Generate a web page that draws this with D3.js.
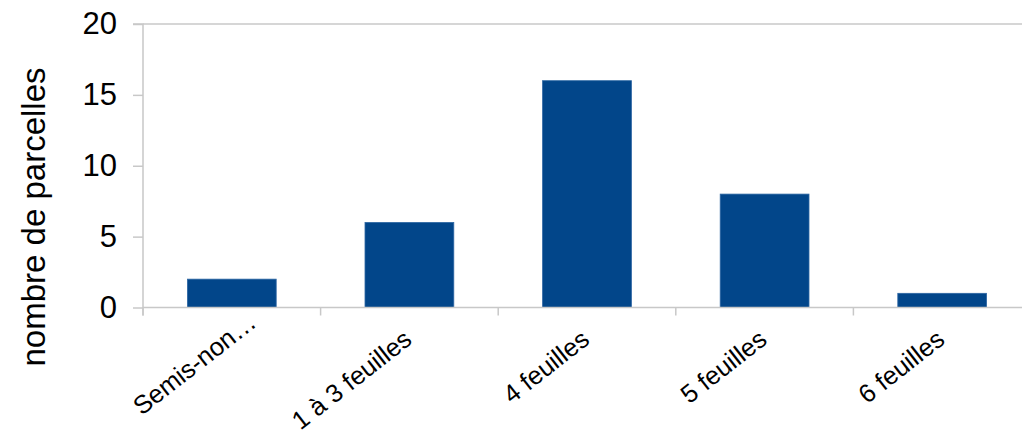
<!DOCTYPE html>
<html><head><meta charset="utf-8">
<script src="https://cdn.jsdelivr.net/npm/d3@7"></script>
<style>html,body{margin:0;padding:0;background:#fff;overflow:hidden}</style>
</head><body>
<svg id="c" width="1022" height="434"></svg>
<script>
const categories = ["Semis-non…", "1 à 3 feuilles", "4 feuilles", "5 feuilles", "6 feuilles"];
const values = [2, 6, 16, 8, 1];
const yTicks = [0, 5, 10, 15, 20];
const yTitle = "nombre de parcelles";

const svg = d3.select("#c");
const font = "'Liberation Sans', Arial, sans-serif";
const mLeft = 143, mRight = 1031, mTop = 24, mBottom = 307.5;

const x = d3.scaleBand().domain(categories).range([mLeft, mRight]).paddingInner(0.5).paddingOuter(0.25);
const xTickPos = d3.scaleBand().domain(categories).range([mLeft, mRight]);
const y = d3.scaleLinear().domain([0, 20]).range([mBottom, mTop]);

// top border line at 20
svg.append("line").attr("x1", mLeft).attr("x2", mRight).attr("y1", y(20)).attr("y2", y(20))
  .attr("stroke", "#c8c8c8").attr("stroke-width", 1.5);

// bars
svg.selectAll("rect.bar").data(values).join("rect").attr("class", "bar")
  .attr("x", (d, i) => x(categories[i]))
  .attr("width", x.bandwidth())
  .attr("y", d => y(d))
  .attr("height", d => y(0) - y(d))
  .attr("fill", "#02468A")
  .attr("stroke", "#2d66a3").attr("stroke-width", 0.8);

// y axis
const yAxis = d3.axisLeft(y).tickValues(yTicks).tickSize(10).tickPadding(16);
const gy = svg.append("g").attr("transform", `translate(${mLeft},0)`).call(yAxis);
gy.select(".domain").attr("stroke", "#c8c8c8").attr("stroke-width", 1.5).attr("d", `M-10,${mTop}H0V${mBottom + 8}`);
gy.selectAll(".tick line").attr("stroke", "#c8c8c8").attr("stroke-width", 1.5);
gy.selectAll(".tick text").attr("font-family", font).attr("font-size", 31).attr("fill", "#000");

// x axis
const gx = svg.append("g").attr("transform", `translate(0,${mBottom})`);
gx.append("line").attr("x1", mLeft).attr("x2", mRight).attr("y1", 0).attr("y2", 0)
  .attr("stroke", "#c8c8c8").attr("stroke-width", 1.5);
const tickXs = categories.map(c => xTickPos(c)).concat([mRight]);
gx.selectAll("line.tk").data(tickXs).join("line").attr("class", "tk")
  .attr("x1", d => d).attr("x2", d => d).attr("y1", 0).attr("y2", 8)
  .attr("stroke", "#c8c8c8").attr("stroke-width", 1.5);
gx.selectAll("text.lab").data(categories).join("text").attr("class", "lab")
  .attr("font-family", font).attr("font-size", 25.5).attr("fill", "#000")
  .attr("text-anchor", "end")
  .attr("dx", (d, i) => i === 0 ? 28 : 0)
  .attr("transform", (d) => `translate(${x(d) + x.bandwidth() / 2 + 4},${35}) rotate(-38)`)
  .text(d => d);

// y title
svg.append("text").attr("font-family", font).attr("font-size", 33).attr("fill", "#000")
  .attr("text-anchor", "middle")
  .attr("transform", `translate(45,217) rotate(-90)`)
  .text(yTitle);
</script>
</body></html>
